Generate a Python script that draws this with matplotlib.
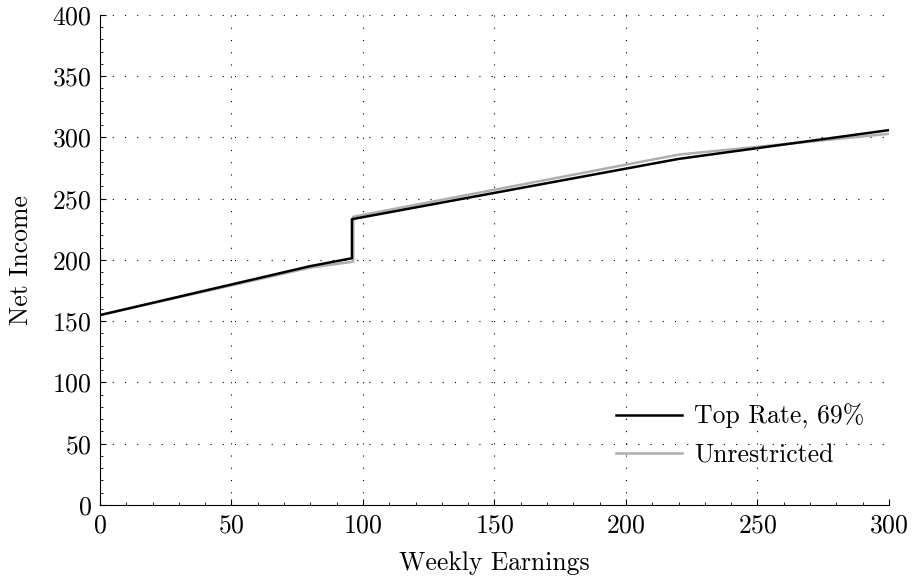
import matplotlib
matplotlib.use("Agg")
import matplotlib.pyplot as plt
from matplotlib.ticker import MultipleLocator

plt.rcParams['font.family'] = ['cmr10', 'DejaVu Serif']
plt.rcParams['mathtext.fontset'] = 'cm'
plt.rcParams['axes.formatter.use_mathtext'] = True

# weekly earnings vs net income
top_x = [0, 80, 95.8, 95.8, 220, 300]
top_y = [155, 195, 201.4, 233.3, 282.5, 306]
unr_x = [0, 80, 96.3, 96.3, 220, 300]
unr_y = [155, 193.8, 198.6, 235.3, 286, 303]

fig = plt.figure(figsize=(9.13, 5.85), dpi=100)
ax = fig.add_axes([0.1095, 0.1368, 0.8642, 0.8376])

ax.plot(top_x, top_y, color='black', lw=1.8, label='Top Rate, 69%', zorder=3)
ax.plot(unr_x, unr_y, color='#aeaeae', lw=1.8, label='Unrestricted', zorder=2)

ax.set_xlim(0, 300)
ax.set_ylim(0, 400)
ax.xaxis.set_major_locator(MultipleLocator(50))
ax.yaxis.set_major_locator(MultipleLocator(50))
ax.xaxis.set_minor_locator(MultipleLocator(10))
ax.yaxis.set_minor_locator(MultipleLocator(10))
ax.tick_params(which='major', direction='in', length=4, width=0.8, labelsize=18.5, pad=6)
ax.tick_params(which='minor', direction='in', length=2, width=0.6)
ax.grid(True, which='major', color='black', linestyle=(0, (1, 10)), linewidth=0.8)

for s in ['top', 'right']:
    ax.spines[s].set_visible(False)

ax.set_xlabel('Weekly Earnings', fontsize=18.5, labelpad=10)
ax.set_ylabel('Net Income', fontsize=18.5, labelpad=14)

ax.legend(loc='lower right', frameon=False, fontsize=18.5, handlelength=2.6,
          handletextpad=0.45, labelspacing=0.55, bbox_to_anchor=(0.998, 0.03))

fig.savefig('out.png', dpi=100)
